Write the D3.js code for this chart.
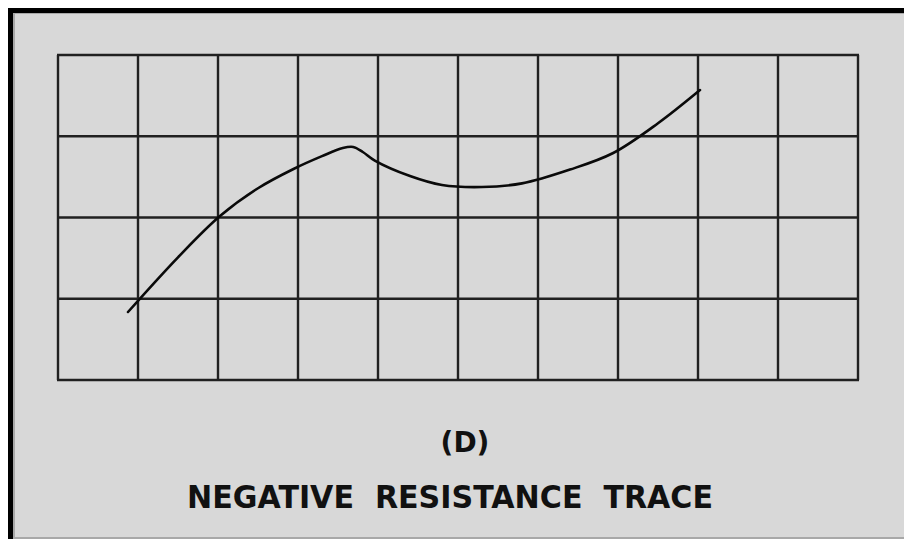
<!DOCTYPE html>
<html>
<head>
<meta charset="utf-8">
<script src="https://cdn.jsdelivr.net/npm/d3@7"></script>
<style>
  html, body { margin: 0; padding: 0; background: #ffffff; }
  svg { display: block; }
</style>
</head>
<body>
<script>
// ---- Data (grid units: x 0..10 divisions, y 0..4 divisions from bottom) ----
const xDivisions = [0, 1, 2, 3, 4, 5, 6, 7, 8, 9, 10];
const yDivisions = [0, 1, 2, 3, 4];
const traceX = [0.875, 1.5, 2.025, 2.5, 2.95, 3.3, 3.56, 3.69, 3.81, 3.96, 4.4, 4.8, 5.3, 5.8, 6.4, 6.94, 7.5, 8.025];
const traceY = [0.837, 1.51, 2.018, 2.36, 2.60, 2.755, 2.855, 2.868, 2.806, 2.70, 2.51, 2.40, 2.375, 2.42, 2.59, 2.794, 3.16, 3.569];
const labelTop = "(D)";
const labelBottom = "NEGATIVE  RESISTANCE  TRACE";

const W = 904, H = 539;
const svg = d3.select("body").append("svg").attr("width", W).attr("height", H);

// Frame
svg.append("rect").attr("x", 0).attr("y", 0).attr("width", W).attr("height", H).attr("fill", "#ffffff");
svg.append("rect").attr("x", 8).attr("y", 8).attr("width", W - 8).attr("height", H - 8).attr("fill", "#000000");
svg.append("rect").attr("x", 13).attr("y", 13).attr("width", W - 13).attr("height", H - 13).attr("fill", "#a8a8a8");
svg.append("rect").attr("x", 15).attr("y", 14).attr("width", W - 15).attr("height", H - 16).attr("fill", "#d8d8d8");

// Scales
const x = d3.scaleLinear().domain([0, 10]).range([58, 858]);
const y = d3.scaleLinear().domain([0, 4]).range([380, 55]);

const grid = svg.append("g").attr("stroke", "#202020").attr("stroke-width", 2.4).attr("fill", "none");
grid.selectAll("line.v").data(xDivisions).join("line")
  .attr("class", "v")
  .attr("x1", d => x(d)).attr("x2", d => x(d))
  .attr("y1", y(0)).attr("y2", y(4));
grid.selectAll("line.h").data(yDivisions).join("line")
  .attr("class", "h")
  .attr("x1", x(0) - 1).attr("x2", x(10) + 1)
  .attr("y1", d => y(d)).attr("y2", d => y(d));

// Trace
const pts = traceX.map((v, i) => [v, traceY[i]]);
const line = d3.line().x(d => x(d[0])).y(d => y(d[1])).curve(d3.curveCatmullRom.alpha(0.5));
svg.append("path").datum(pts)
  .attr("d", line)
  .attr("fill", "none")
  .attr("stroke", "#0a0a0a")
  .attr("stroke-width", 2.6)
  .attr("stroke-linejoin", "round")
  .attr("stroke-linecap", "round");

// Labels
svg.append("text")
  .attr("x", 465).attr("y", 452)
  .attr("text-anchor", "middle")
  .attr("font-family", "'DejaVu Sans', sans-serif")
  .attr("font-weight", "bold")
  .attr("font-size", 28)
  .attr("fill", "#111")
  .text(labelTop);

svg.append("text")
  .attr("x", 187).attr("y", 508)
  .attr("font-family", "'DejaVu Sans', sans-serif")
  .attr("font-weight", "bold")
  .attr("font-size", 32)
  .attr("fill", "#111")
  .attr("xml:space", "preserve")
  .style("white-space", "pre")
  .attr("textLength", 526)
  .attr("lengthAdjust", "spacingAndGlyphs")
  .text(labelBottom);
</script>
</body>
</html>
